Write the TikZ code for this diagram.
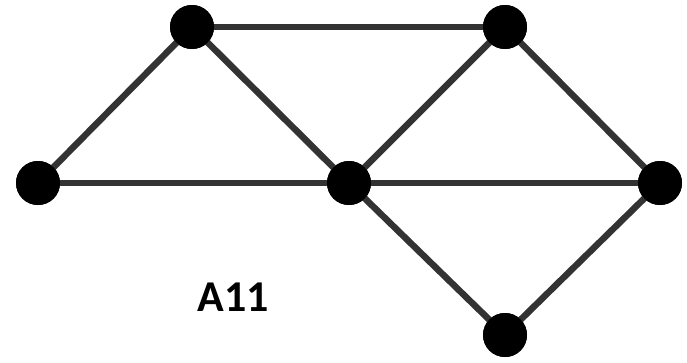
\documentclass[tikz,border=0pt]{standalone}
\usepackage{fontspec}
\setmainfont{Carlito}
\usetikzlibrary{positioning}

\begin{document}
\begin{tikzpicture}[x=1pt, y=-1pt,
    vertex/.style={circle, fill=black, inner sep=0pt, minimum size=44pt},
    edge/.style={draw=black!80, line width=6.5pt}]
\useasboundingbox (0,0) rectangle (687,362);
\node[vertex] (a) at (38,183) {};
\node[vertex] (b) at (192,27) {};
\node[vertex] (c) at (505,27) {};
\node[vertex] (d) at (349,183) {};
\node[vertex] (e) at (660,183) {};
\node[vertex] (f) at (505,335) {};
\node[font=\bfseries\fontsize{44}{44}\selectfont] (name) at (233,297) {A11};

\draw[edge] (a.center) -- (b.center);
\draw[edge] (a.center) -- (d.center);
\draw[edge] (b.center) -- (c.center);
\draw[edge] (b.center) -- (d.center);
\draw[edge] (c.center) -- (d.center);
\draw[edge] (c.center) -- (e.center);
\draw[edge] (d.center) -- (e.center);
\draw[edge] (d.center) -- (f.center);
\draw[edge] (e.center) -- (f.center);
% dots again on top of the lines
\foreach \v in {a,b,c,d,e,f}
    \fill (\v) circle (22pt);
\end{tikzpicture}
\end{document}
